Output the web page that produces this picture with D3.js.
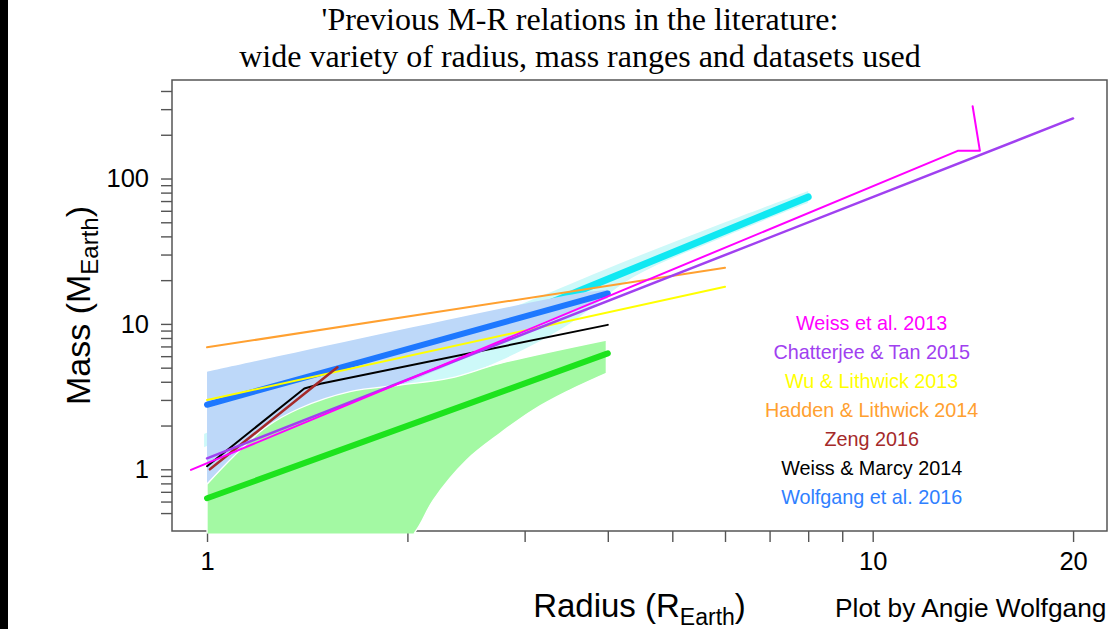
<!DOCTYPE html>
<html><head><meta charset="utf-8">
<script src="https://cdn.jsdelivr.net/npm/d3@7"></script>
<style>body{margin:0;background:#fff;} svg{display:block;}</style>
</head><body><svg id="c" width="1118" height="629"></svg>
<script>
// ---------- data ----------
const xTicks = [1,2,3,4,5,6,7,8,9,10,20];
const xTickLabels = [1,10,20];
const yTicks = [0.5,0.6,0.7,0.8,0.9,1,2,3,4,5,6,7,8,9,10,20,30,40,50,60,70,80,90,100,200,300,400];
const yTickLabels = [1,10,100];

const weiss2013      = [[0.946,0.99],[13.42,155],[14.49,155],[14.13,314]];
const chatterjee2015 = [[1,1.19],[20,259]];
const wu2013         = [[1,3],[6,18]];
const hadden2014     = [[1,6.9],[6,24.3]];
const zeng2016       = [[1.01,1.0],[1.57,5.03]];
const weissMarcy2014 = [[1,1.05],[1.40,3.60],[1.48,3.87],[4,9.85]];
const wolfgang2016   = [[1,2.78],[4,16.2]];
const wolfgangUpper  = [[1,4.69],[3.6,16.2],[4,17.2]];
const wolfgangLower  = [[1,0.80],[1.095,1.2],[1.229,1.93],[1.379,2.6],[1.64,3.4],[1.95,3.8],[2.19,4.7],[2.46,5.95],[3.09,9.6],[4,15.0]];
const cyanRel        = [[1.02,1.56],[8,74.7]];
const cyanUpper      = [[0.99,1.75],[2,6.8],[3,14.0],[4.37,28.4],[6,50],[8,82]];
const cyanLower      = [[0.99,1.42],[1.64,3.3],[2.3,4.1],[2.76,5.6],[3.5,10],[4.37,21],[6,40],[8,68]];
const greenRel       = [[1,0.632],[4,6.27]];
const greenUpper     = [[1,0.79],[1.095,1.22],[1.229,1.96],[1.379,2.63],[1.64,3.42],[1.95,3.8],[2.316,4.23],[2.756,5.35],[3.98,7.75]];
const greenLower     = [[1,0.25],[1.9,0.25],[2.064,0.383],[2.187,0.615],[2.455,1.16],[2.756,1.77],[3.09,2.56],[3.47,3.42],[3.98,4.57]];

const legendLabels = ["Weiss et al. 2013","Chatterjee & Tan 2015","Wu & Lithwick 2013","Hadden & Lithwick 2014","Zeng 2016","Weiss & Marcy 2014","Wolfgang et al. 2016"];
const legendColors = ["#ff00ff","#a040f0","#ffff00","#ffa030","#a52a2a","#000000","#2f80ff"];

// ---------- layout ----------
const svg = d3.select("#c");
const L = 172, R = 1107, T = 80, B = 531;
const x = d3.scaleLog().domain([0.8859, 22.49]).range([L, R]);
const y = d3.scaleLog().domain([0.3764, 476]).range([B, T]);
const sans = "'Liberation Sans', Arial, Helvetica, sans-serif";

svg.append("rect").attr("x",0).attr("y",0).attr("width",1118).attr("height",629).attr("fill","#fff");
svg.append("rect").attr("x",0).attr("y",0).attr("width",8).attr("height",629).attr("fill","#000");

// frame
svg.append("rect").attr("x",L).attr("y",T).attr("width",R-L).attr("height",B-T)
  .attr("fill","none").attr("stroke","#555").attr("stroke-width",1.5);

// axes
const xa = svg.append("g").attr("transform",`translate(0,${B})`)
  .call(d3.axisBottom(x).tickValues(xTicks).tickFormat(d => xTickLabels.includes(d) ? d : "").tickSize(11).tickSizeOuter(0).tickPadding(10));
const ya = svg.append("g").attr("transform",`translate(${L},0)`)
  .call(d3.axisLeft(y).tickValues(yTicks).tickFormat(d => yTickLabels.includes(d) ? d : "").tickSize(11).tickSizeOuter(0).tickPadding(12));
[xa, ya].forEach(g => {
  g.select(".domain").remove();
  g.selectAll(".tick line").attr("stroke","#555").attr("stroke-width",1.4);
  g.selectAll(".tick text").attr("fill","#000").style("font-family",sans).style("font-size","25.5px");
});

// clip (slightly wider on the left so band edges can peek out like the original)
svg.append("clipPath").attr("id","clip").append("rect").attr("x",L).attr("y",T).attr("width",R-L).attr("height",B-T+2.5);

const px = d => [x(d[0]), y(d[1])];
const smooth = d3.line().curve(d3.curveCatmullRom.alpha(0.5));
function band(upper, lower){
  const up = upper.map(px), lo = lower.map(px).reverse();
  return smooth(up) + smooth(lo).replace(/^M/,"L") + "Z";
}
const lineGen = d3.line().x(d => x(d[0])).y(d => y(d[1]));
function drawLine(g, data, color, w){
  g.append("path").attr("d", lineGen(data)).attr("fill","none").attr("stroke",color)
    .attr("stroke-width",w).attr("stroke-linecap","round").attr("stroke-linejoin","round");
}

const underG = svg.append("g");
underG.append("path").attr("d", band(cyanUpper, cyanLower)).attr("fill","#cdf9f9").attr("clip-path","url(#clip)");
drawLine(underG, cyanRel, "#10e8f2", 7);
const bandG = svg.append("g").attr("clip-path","url(#clip)");
bandG.append("path").attr("d", band(wolfgangUpper, wolfgangLower)).attr("fill","#bdd8f9");
bandG.append("path").attr("d", band(greenUpper, greenLower)).attr("fill","#a3f9a3")
  .attr("stroke","#fff").attr("stroke-width",1.3);

const linesG = svg.append("g");
drawLine(linesG, greenRel, "#1de31d", 6);
drawLine(linesG, wolfgang2016, "#1e78ff", 6);
drawLine(linesG, wu2013, "#ffff00", 2);
drawLine(linesG, hadden2014, "#ffa030", 2);
drawLine(linesG, weissMarcy2014, "#000000", 2);
drawLine(linesG, zeng2016, "#a52a2a", 2.5);
drawLine(linesG, chatterjee2015, "#a040f0", 2.5);
drawLine(linesG, weiss2013, "#ff00ff", 2);

// legend
const legX = x(10) - 1;
legendLabels.forEach((t,i) => {
  svg.append("text").attr("x",legX).attr("y",330 + i*29).attr("text-anchor","middle")
    .style("font-family",sans).style("font-size","19.8px").attr("fill",legendColors[i]).text(t);
});

// titles
const title = svg.append("text").attr("text-anchor","middle").style("font-family","'Liberation Serif','Times New Roman',serif").style("font-size","32px").attr("fill","#000");
title.append("tspan").attr("x",580).attr("y",30).text("'Previous M-R relations in the literature:");
title.append("tspan").attr("x",580).attr("y",67).text("wide variety of radius, mass ranges and datasets used");

const xt = svg.append("text").attr("x",(L+R)/2).attr("y",617).attr("text-anchor","middle")
  .style("font-family",sans).style("font-size","33px").attr("fill","#000");
xt.append("tspan").text("Radius (R");
xt.append("tspan").attr("dy",8).style("font-size","23px").text("Earth");
xt.append("tspan").attr("dy",-8).text(")");

const yt = svg.append("text").attr("transform",`translate(90,${(T+B)/2}) rotate(-90)`).attr("text-anchor","middle")
  .style("font-family",sans).style("font-size","34px").attr("fill","#000");
yt.append("tspan").text("Mass (M");
yt.append("tspan").attr("dy",8).style("font-size","24px").text("Earth");
yt.append("tspan").attr("dy",-8).text(")");

svg.append("text").attr("x",835).attr("y",617).style("font-family",sans).style("font-size","26.3px")
  .attr("fill","#000").text("Plot by Angie Wolfgang");
</script>
</body></html>
